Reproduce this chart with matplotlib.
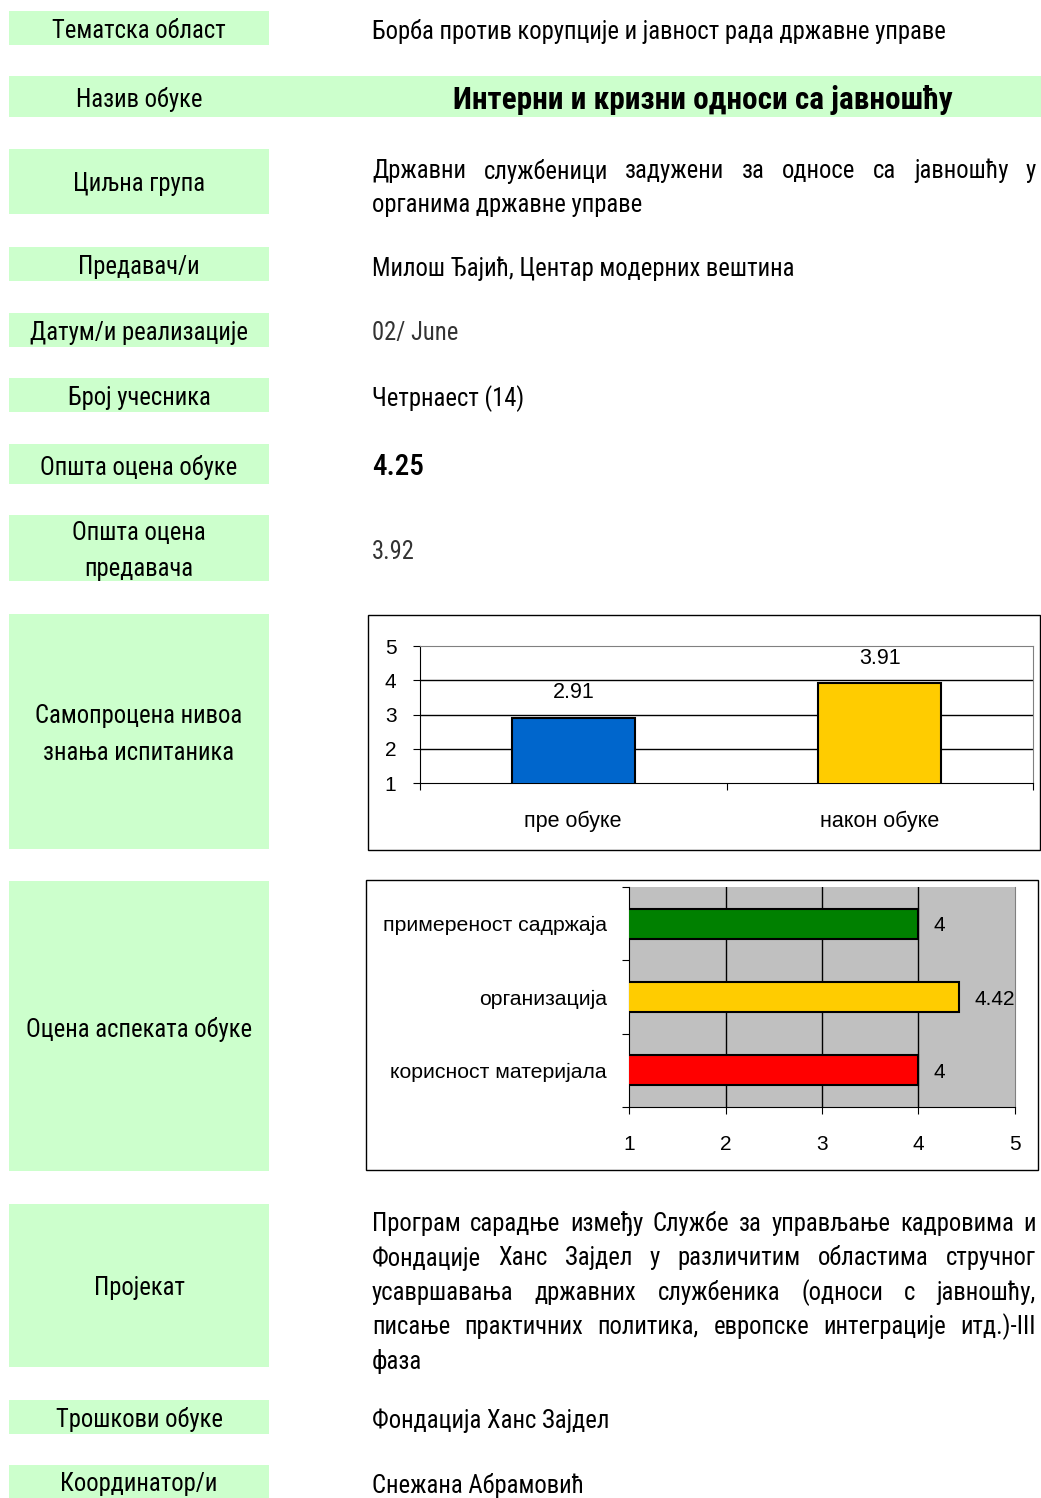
import matplotlib
matplotlib.use("Agg")
import matplotlib.pyplot as plt
from matplotlib.patches import Rectangle
from matplotlib import font_manager

W, H = 1041, 1498

# --- data ---
row_labels = ["Тематска област", "Назив обуке", "Циљна група", "Предавач/и",
              "Датум/и реализације", "Број учесника", "Општа оцена обуке",
              "Општа оцена\nпредавача", "Самопроцена нивоа\nзнања испитаника",
              "Оцена аспеката обуке", "Пројекат", "Трошкови обуке", "Координатор/и"]
topic = "Борба против корупције и јавност рада државне управе"
course_title = "Интерни и кризни односи са јавношћу"
target_group = ["Државни службеници задужени за односе са јавношћу у",
                "органима државне управе"]
lecturer = "Милош Ђајић, Центар модерних вештина"
date_text = "02/ June"
participants = "Четрнаест (14)"
course_score = "4.25"
lecturer_score = "3.92"
project_text = ["Програм сарадње између Службе за управљање кадровима и",
                "Фондације Ханс Зајдел у различитим областима  стручног",
                "усавршавања државних службеника (односи с јавношћу,",
                "писање практичних политика, европске интеграције итд.)-III",
                "фаза"]
costs = "Фондација Ханс Зајдел"
coordinator = "Снежана Абрамовић"

knowledge_labels = ["пре обуке", "након обуке"]
knowledge_values = [2.91, 3.91]
knowledge_colors = ["#0066CC", "#FFCC00"]

aspect_labels = ["примереност садржаја", "организација", "корисност материјала"]
aspect_values = [4, 4.42, 4]
aspect_colors = ["#008000", "#FFCC00", "#FF0000"]

# --- fonts ---
names = {f.name for f in font_manager.fontManager.ttflist}
NARROW = "Liberation Sans Narrow" if "Liberation Sans Narrow" in names else "Roboto Condensed"
if NARROW not in names:
    NARROW = "Liberation Sans"
ARIAL = "Liberation Sans"
plt.rcParams["font.family"] = [ARIAL, "DejaVu Sans"]
FS = 17.7

GREEN = "#CCFFCC"

fig = plt.figure(figsize=(W / 100, H / 100), dpi=100)
bg = fig.add_axes([0, 0, 1, 1])
bg.set_xlim(0, W)
bg.set_ylim(H, 0)
bg.axis("off")

# label boxes (top, bottom) in pixels
boxes = [(11, 45), (76, 117), (149, 214), (247, 281), (313, 347), (378, 412),
         (444, 484), (515, 581), (614, 849), (881, 1171), (1204, 1367),
         (1400, 1434), (1465, 1498)]
for i, (lab, (y0, y1)) in enumerate(zip(row_labels, boxes)):
    x1 = 1041 if i == 1 else 269
    bg.add_patch(Rectangle((9, y0), x1 - 9, y1 - y0, color=GREEN, lw=0))
    bg.text(139, (y0 + y1) / 2 + 3, lab, ha="center", va="center", fontsize=FS,
            family=[NARROW, "DejaVu Sans"], linespacing=1.65)

VX = 372


def put(y, s, **kw):
    kw.setdefault("fontsize", FS)
    kw.setdefault("family", [NARROW, "DejaVu Sans"])
    bg.text(VX, y + 2, s, ha="left", va="center", **kw)


renderer = fig.canvas.get_renderer()


def justify(lines, y0, dy, x0=372, x1=1036):
    for k, line in enumerate(lines):
        y = y0 + k * dy
        if k == len(lines) - 1:
            put(y, line)
            continue
        words = line.split()
        objs = [bg.text(0, y + 2, w, ha="left", va="center", fontsize=FS,
                        family=[NARROW, "DejaVu Sans"]) for w in words]
        widths = [o.get_window_extent(renderer).width for o in objs]
        gap = (x1 - x0 - sum(widths)) / (len(words) - 1)
        x = x0
        for o, w in zip(objs, widths):
            o.set_x(x)
            x += w + gap


put(30, topic)
bg.text(703, 100, course_title, ha="center", va="center", fontsize=22.5,
        fontweight="bold", family=[NARROW, "DejaVu Sans"])
justify(target_group, 169, 34)
put(267, lecturer)
put(331, date_text, color="#333333")
put(397, participants)
put(465, course_score, fontsize=21, fontweight="medium")
put(550, lecturer_score, color="#333333")
justify(project_text, 1222, 34.3)
put(1419, costs)
put(1484, coordinator)

# chart frames
bg.add_patch(Rectangle((368, 615), 672, 235, fill=False, ec="black", lw=1))
bg.add_patch(Rectangle((366, 880), 672, 290, fill=False, ec="black", lw=1))


def rect(x0, y0, x1, y1):
    return [x0 / W, 1 - y1 / H, (x1 - x0) / W, (y1 - y0) / H]


# --- chart 1: self-assessment ---
ax = fig.add_axes(rect(420, 646, 1033, 783))
xs = range(len(knowledge_values))
bars = ax.bar(xs, knowledge_values, width=0.4, color=knowledge_colors,
              edgecolor="black", lw=1.5, zorder=3)
ax.set_xlim(-0.5, 1.5)
ax.set_ylim(1, 5)
ax.set_yticks([1, 2, 3, 4, 5])
ax.set_yticklabels(["1", "2", "3", "4", "5"], fontsize=15)
ax.set_xticks([-0.5, 0.5, 1.5])
ax.set_xticklabels([])
ax.set_xticks(list(xs), minor=True)
ax.set_xticklabels(knowledge_labels, minor=True, fontsize=15.5)
ax.tick_params(axis="x", which="minor", length=0, pad=20)
ax.tick_params(axis="x", which="major", length=5, direction="out")
ax.tick_params(axis="y", length=5, direction="out", pad=12)
for yv in [2, 3, 4]:
    ax.axhline(yv, color="black", lw=1, zorder=1)
for side in ["top", "right"]:
    ax.spines[side].set_color("#808080")
for side in ["left", "bottom"]:
    ax.spines[side].set_color("black")
for b, v in zip(bars, knowledge_values):
    ax.text(b.get_x() + b.get_width() / 2, v + 0.72, f"{v:.2f}", ha="center",
            va="center", fontsize=15.5)

# --- chart 2: aspects ---
ax2 = fig.add_axes(rect(629, 887, 1015, 1107))
ax2.set_facecolor("#C0C0C0")
ys = range(len(aspect_values))
bars2 = ax2.barh(ys, aspect_values, height=0.41, color=aspect_colors,
                 edgecolor="black", lw=1.5, zorder=3)
ax2.set_xlim(1, 5)
ax2.set_ylim(2.5, -0.5)
ax2.set_xticks([1, 2, 3, 4, 5])
ax2.set_xticklabels(["1", "2", "3", "4", "5"], fontsize=15)
ax2.tick_params(axis="x", length=5, direction="out", pad=15)
ax2.set_yticks([-0.5, 0.5, 1.5, 2.5])
ax2.set_yticklabels([])
ax2.set_yticks(list(ys), minor=True)
ax2.set_yticklabels(aspect_labels, minor=True, fontsize=15.3)
ax2.tick_params(axis="y", which="minor", length=0, pad=16)
ax2.tick_params(axis="y", which="major", length=5, direction="out")
for xv in [2, 3, 4]:
    ax2.axvline(xv, color="black", lw=1, zorder=1)
ax2.spines["top"].set_visible(False)
ax2.spines["right"].set_color("#808080")
for b, v in zip(bars2, aspect_values):
    ax2.text(v + 0.16, b.get_y() + b.get_height() / 2 + 0.03, f"{v:g}", ha="left",
             va="center", fontsize=15)

fig.savefig("out.png", dpi=100)
